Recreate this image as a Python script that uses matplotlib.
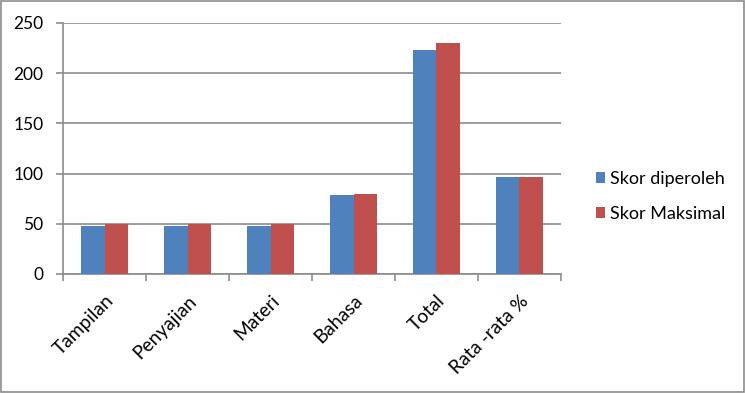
import matplotlib.pyplot as plt
import numpy as np

kategori = ['Tampilan', 'Penyajian', 'Materi', 'Bahasa', 'Total', 'Rata -rata %']
skor_diperoleh = [48, 48, 48, 79, 223, 97]
skor_maksimal = [50, 50, 50, 80, 230, 97]

plt.rcParams['font.family'] = ['Lato', 'DejaVu Sans']

fig = plt.figure(figsize=(7.45, 3.93), dpi=100)
ax = fig.add_axes([0.0846, 0.3028, 0.6684, 0.6387])

x = np.arange(len(kategori))
w = 1 / 3.5
ax.bar(x - w / 2, skor_diperoleh, w, color='#4F81BD', label='Skor diperoleh', zorder=3)
ax.bar(x + w / 2, skor_maksimal, w, color='#C0504D', label='Skor Maksimal', zorder=3)

ax.set_xlim(-0.5, len(kategori) - 0.5)
ax.set_ylim(0, 250)
ax.set_yticks(range(0, 251, 50))
ax.yaxis.grid(True, color='#8c8c8c', linewidth=1.2, zorder=0)
for s in ['top', 'right']:
    ax.spines[s].set_visible(False)
for s in ['left', 'bottom']:
    ax.spines[s].set_color('#8c8c8c')
    ax.spines[s].set_linewidth(1.2)

ax.set_xticks(x)
ax.set_xticklabels(kategori, rotation=45, ha='right', rotation_mode='anchor', fontsize=13.8)
ax.set_xticks(np.arange(-0.5, len(kategori)), minor=True)
ax.tick_params(axis='x', which='major', length=0, pad=13)
ax.tick_params(axis='x', which='minor', length=5, color='#8c8c8c', width=1.2)
ax.tick_params(axis='y', length=5, color='#8c8c8c', width=1.2, labelsize=12.5, pad=9)

fig.legend(loc='center left', bbox_to_anchor=(0.778, 0.5), frameon=False,
           fontsize=13, handlelength=0.5, handleheight=0.5, labelspacing=1.05,
           handletextpad=0.3)

fig.patches.append(plt.Rectangle((0.001, 0.002), 0.997, 0.996, transform=fig.transFigure,
                                 fill=False, edgecolor='#8c8c8c', linewidth=1.2))

fig.savefig('out.png', dpi=100)
